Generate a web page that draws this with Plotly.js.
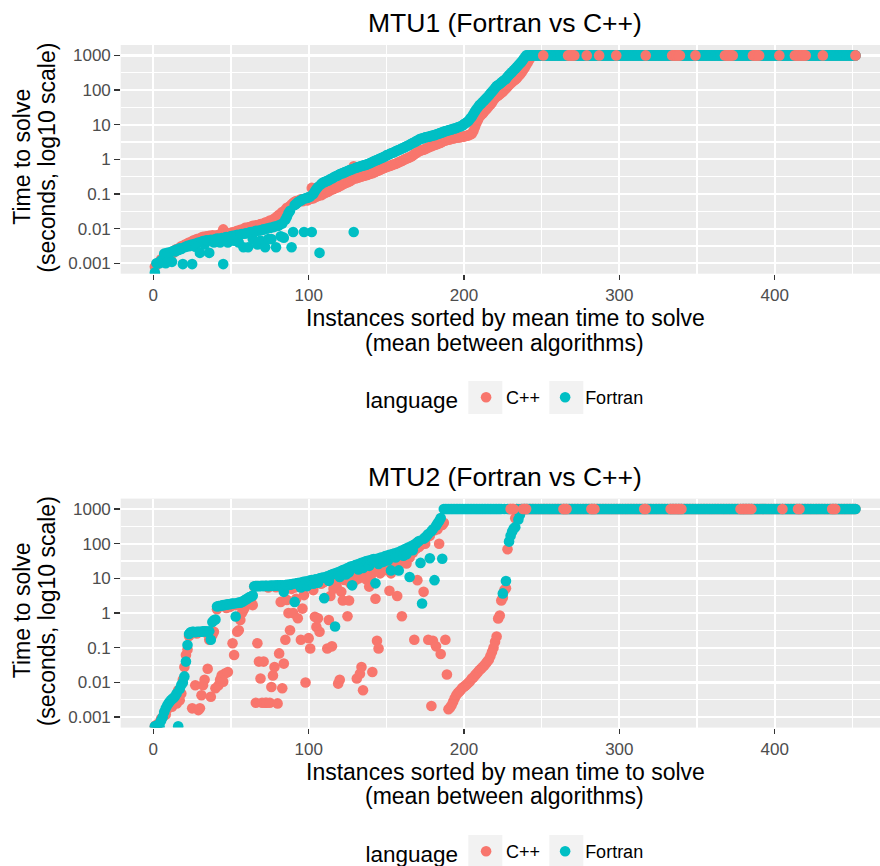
<!DOCTYPE html>
<html>
<head>
<meta charset="utf-8">
<script src="https://cdn.plot.ly/plotly-3.0.1.min.js"></script>
<style>html,body{margin:0;padding:0;background:#fff;}#chart{width:880px;height:866px;}</style>
</head>
<body>
<div id="chart"></div>
<script>
// ---------------- DATA ----------------
const nInstances = 452;
const instances = Array.from({length: nInstances}, (_, i) => i + 1); // rank positions

const yTickVals = [0.001, 0.01, 0.1, 1, 10, 100, 1000];
const yTickText = ['0.001', '0.01', '0.1', '1', '10', '100', '1000'];
const xTickVals = [0, 100, 200, 300, 400];
const xTickText = ['0', '100', '200', '300', '400'];
const languages = ['C++', 'Fortran'];
const panelTitles = ['MTU1 (Fortran vs C++)', 'MTU2 (Fortran vs C++)'];

// MTU1, C++ (seconds)
const mtu1_cpp = [
0.0008,0.0009,0.0010,0.0011,0.0013,0.0012,0.0014,0.0015,0.0017,0.0018,
0.0018,0.0021,0.0020,0.0024,0.0026,0.0025,0.0028,0.0031,0.0030,0.0034,
0.0035,0.0037,0.0040,0.0038,0.0043,0.0046,0.0044,0.0050,0.0048,0.0053,
0.0055,0.0058,0.0052,0.0060,0.0057,0.0062,0.0059,0.0064,0.0061,0.0063,
0.0060,0.0066,0.0063,0.0068,0.0095,0.0065,0.0070,0.0073,0.0069,0.0076,
0.0078,0.0074,0.0082,0.0086,0.0080,0.0092,0.0088,0.0096,0.0105,0.0099,
0.0110,0.0104,0.0115,0.0120,0.0112,0.0125,0.0118,0.0130,0.0135,0.0128,
0.0140,0.0150,0.0145,0.0160,0.0170,0.0165,0.0180,0.0195,0.0210,0.0230,
0.025,0.027,0.030,0.028,0.035,0.040,0.038,0.045,0.050,0.055,
0.060,0.063,0.058,0.066,0.070,0.062,0.068,0.072,0.065,0.070,
0.072,0.15,0.075,0.080,0.085,0.088,0.17,0.092,0.098,0.105,
0.11,0.115,0.12,0.13,0.135,0.14,0.15,0.155,0.16,0.17,
0.18,0.19,0.20,0.21,0.22,0.23,0.24,0.26,0.63,0.28,
0.29,0.30,0.31,0.32,0.33,0.34,0.35,0.36,0.38,0.39,
0.40,0.42,0.44,0.46,0.48,0.50,0.53,0.55,0.57,0.60,
0.62,0.64,0.66,0.70,0.72,0.75,0.78,0.82,0.86,0.90,
0.95,1.0,1.05,1.1,1.15,1.2,1.3,1.4,1.5,1.6,
1.7,1.8,1.85,1.9,2.0,2.1,2.2,2.3,2.4,2.5,
2.6,2.7,2.8,2.9,3.0,3.2,3.4,3.5,3.6,3.7,
3.8,3.9,4.0,4.1,4.2,4.3,4.3,4.4,4.5,4.6,
4.7,4.8,5.0,5.2,5.5,6.5,8.5,11,14,17,
19,21,24,27,30,34,38,44,52,59,
65,70,76,82,90,100,110,125,140,155,
170,185,200,220,250,280,320,370,430,520,
620,750,880,1000,
1000,1000,1000,1000,1000,1000,1000,1000,1000,1000,1000,1000,1000,1000,1000,1000,1000,1000,1000,1000,
1000,1000,1000,1000,1000,1000,1000,1000,1000,1000,1000,1000,1000,1000,1000,1000,1000,1000,1000,1000,
1000,1000,1000,1000,1000,1000,1000,1000,1000,1000,1000,1000,1000,1000,1000,1000,1000,1000,1000,1000,
1000,1000,1000,1000,1000,1000,1000,1000,1000,1000,1000,1000,1000,1000,1000,1000,1000,1000,1000,1000,
1000,1000,1000,1000,1000,1000,1000,1000,1000,1000,1000,1000,1000,1000,1000,1000,1000,1000,1000,1000,
1000,1000,1000,1000,1000,1000,1000,1000,1000,1000,1000,1000,1000,1000,1000,1000,1000,1000,1000,1000,
1000,1000,1000,1000,1000,1000,1000,1000,1000,1000,1000,1000,1000,1000,1000,1000,1000,1000,1000,1000,
1000,1000,1000,1000,1000,1000,1000,1000,1000,1000,1000,1000,1000,1000,1000,1000,1000,1000,1000,1000,
1000,1000,1000,1000,1000,1000,1000,1000,1000,1000,1000,1000,1000,1000,1000,1000,1000,1000,1000,1000,
1000,1000,1000,1000,1000,1000,1000,1000,1000,1000,1000,1000,1000,1000,1000,1000,1000,1000,1000,1000,
1000,1000,1000,1000,1000,1000,1000,1000
];

// MTU1, Fortran (seconds)
const mtu1_fortran = [
0.00054,0.0010,0.0010,0.0010,0.0012,0.0011,0.0019,0.0010,0.0020,0.0012,
0.0021,0.0011,0.0023,0.0022,0.0025,0.0024,0.0027,0.0026,0.00095,0.0029,
0.0030,0.0032,0.0031,0.0034,0.00095,0.0036,0.0030,0.0038,0.0040,0.0020,
0.0042,0.0044,0.0035,0.0046,0.0045,0.0020,0.0048,0.0047,0.0040,0.0050,
0.0052,0.0051,0.0040,0.0054,0.00095,0.0055,0.0057,0.0040,0.0058,0.0060,
0.0062,0.0045,0.0064,0.0066,0.0040,0.0068,0.0070,0.0029,0.0072,0.0074,
0.0029,0.0078,0.0080,0.0050,0.0083,0.0086,0.0035,0.0088,0.0045,0.0092,
0.0095,0.0029,0.0100,0.0050,0.0105,0.0050,0.0110,0.0115,0.0029,0.0120,
0.0125,0.0060,0.0140,0.0055,0.0180,0.0220,0.0280,0.0330,0.0029,0.0080,
0.048,0.052,0.058,0.062,0.065,0.070,0.008,0.075,0.078,0.080,
0.085,0.008,0.10,0.12,0.14,0.16,0.002,0.19,0.21,0.22,
0.23,0.24,0.25,0.27,0.28,0.30,0.32,0.33,0.35,0.37,
0.39,0.40,0.42,0.44,0.46,0.48,0.50,0.52,0.008,0.56,
0.58,0.60,0.62,0.64,0.66,0.68,0.70,0.73,0.76,0.80,
0.84,0.88,0.92,0.96,1.0,1.05,1.1,1.15,1.2,1.3,
1.35,1.4,1.5,1.55,1.6,1.7,1.8,1.85,1.95,2.05,
2.15,2.25,2.4,2.5,2.65,2.8,2.95,3.1,3.3,3.5,
3.7,3.9,4.0,4.1,4.3,4.4,4.5,4.6,4.8,4.9,
5.0,5.2,5.4,5.6,5.8,6.0,6.3,6.5,6.7,6.9,
7.1,7.3,7.6,7.8,8.0,8.4,8.7,9.0,9.5,10.5,
11,12,13,15,17,20,24,28,32,37,
40,45,50,56,62,70,80,90,100,115,
130,140,150,165,180,195,210,240,270,300,
330,370,410,460,520,580,650,750,870,1000,
1000,1000,1000,1000,1000,1000,1000,1000,1000,1000,1000,1000,1000,1000,1000,1000,1000,1000,1000,1000,
1000,1000,1000,1000,1000,1000,1000,1000,1000,1000,1000,1000,1000,1000,1000,1000,1000,1000,1000,1000,
1000,1000,1000,1000,1000,1000,1000,1000,1000,1000,1000,1000,1000,1000,1000,1000,1000,1000,1000,1000,
1000,1000,1000,1000,1000,1000,1000,1000,1000,1000,1000,1000,1000,1000,1000,1000,1000,1000,1000,1000,
1000,1000,1000,1000,1000,1000,1000,1000,1000,1000,1000,1000,1000,1000,1000,1000,1000,1000,1000,1000,
1000,1000,1000,1000,1000,1000,1000,1000,1000,1000,1000,1000,1000,1000,1000,1000,1000,1000,1000,1000,
1000,1000,1000,1000,1000,1000,1000,1000,1000,1000,1000,1000,1000,1000,1000,1000,1000,1000,1000,1000,
1000,1000,1000,1000,1000,1000,1000,1000,1000,1000,1000,1000,1000,1000,1000,1000,1000,1000,1000,1000,
1000,1000,1000,1000,1000,1000,1000,1000,1000,1000,1000,1000,1000,1000,1000,1000,1000,1000,1000,1000,
1000,1000,1000,1000,1000,1000,1000,1000,1000,1000,1000,1000,1000,1000,1000,1000,1000,1000,1000,1000,
1000,1000,1000,1000,1000,1000,1000,1000,1000,1000,1000,1000
];

// MTU2, C++ (seconds)
const mtu2_cpp = [
0.00055,0.0006,0.0006,0.0007,0.0009,0.0010,0.0012,0.0012,0.0017,0.0020,
0.0022,0.0020,0.0028,0.0032,0.0025,0.0060,0.0031,0.0048,0.012,0.028,
0.062,0.09,0.22,0.26,0.0018,0.27,0.0083,0.26,0.0016,0.0018,
0.0043,0.0083,0.012,0.27,0.025,0.17,0.0039,0.23,0.29,0.0068,
1.3,0.0083,0.012,0.016,0.0105,0.018,1.4,0.020,1.5,1.6,
0.135,0.062,1.7,0.29,0.32,0.63,1.0,1.2,1.5,2.0,
2.2,2.4,2.6,1.7,5.8,0.0026,0.135,0.040,0.013,0.0026,
0.040,0.0026,0.0026,5.5,0.0026,0.0074,0.016,0.028,5.6,0.0025,
0.069,2.1,0.0068,0.035,0.17,2.4,1.0,0.32,5.0,1.0,
5.5,2.6,0.71,6.0,0.17,1.35,3.3,0.010,6.2,0.19,
0.095,6.5,4.6,0.78,0.40,0.71,0.29,7.0,7.5,8.0,
8.5,0.095,0.63,3.1,0.11,5.0,7.5,6.0,0.0093,0.012,
4.1,2.3,9.0,12,0.81,2.3,7.0,11,13,8.9,
0.013,10,0.018,0.028,0.0060,16,9.5,18,5.8,12,
0.020,20,2.6,0.16,0.095,14,24,17,27,20,
30,4.4,14,22,33,25,3.1,38,30,0.81,
45,35,27,50,40,60,55,0.17,70,8.9,
80,90,100,4.1,100,150,0.17,170,0.0021,0.16,
245,0.11,260,100,0.066,346,400,0.17,0.017,0.0017,
0.0019,0.0022,0.0028,0.0035,0.0043,0.0050,0.0055,0.0062,0.0070,0.0076,
0.0082,0.0090,0.010,0.011,0.013,0.014,0.016,0.018,0.020,0.023,
0.025,0.028,0.031,0.035,0.040,0.046,0.058,0.076,0.10,0.15,
0.21,0.70,0.85,2.3,2.8,4.6,5.2,69,1000,1000,
1000,1000,540,1000,1000,1000,1000,1000,1000,1000,
1000,1000,1000,1000,1000,1000,1000,1000,1000,1000,1000,1000,1000,1000,1000,1000,1000,1000,1000,1000,
1000,1000,1000,1000,1000,1000,1000,1000,1000,1000,1000,1000,1000,1000,1000,1000,1000,1000,1000,1000,
1000,1000,1000,1000,1000,1000,1000,1000,1000,1000,1000,1000,1000,1000,1000,1000,1000,1000,1000,1000,
1000,1000,1000,1000,1000,1000,1000,1000,1000,1000,1000,1000,1000,1000,1000,1000,1000,1000,1000,1000,
1000,1000,1000,1000,1000,1000,1000,1000,1000,1000,1000,1000,1000,1000,1000,1000,1000,1000,1000,1000,
1000,1000,1000,1000,1000,1000,1000,1000,1000,1000,1000,1000,1000,1000,1000,1000,1000,1000,1000,1000,
1000,1000,1000,1000,1000,1000,1000,1000,1000,1000,1000,1000,1000,1000,1000,1000,1000,1000,1000,1000,
1000,1000,1000,1000,1000,1000,1000,1000,1000,1000,1000,1000,1000,1000,1000,1000,1000,1000,1000,1000,
1000,1000,1000,1000,1000,1000,1000,1000,1000,1000,1000,1000,1000,1000,1000,1000,1000,1000,1000,1000,
1000,1000,1000,1000,1000,1000,1000,1000,1000,1000,1000,1000,1000,1000,1000,1000,1000,1000,1000,1000,
1000,1000,1000,1000,1000,1000,1000,1000,1000,1000,1000,1000
];

// MTU2, Fortran (seconds)
const mtu2_fortran = [
0.00055,0.00055,0.0006,0.00055,0.0008,0.0010,0.0014,0.0018,0.0022,0.0026,
0.0030,0.0033,0.0036,0.0040,0.0048,0.00055,0.0065,0.0085,0.010,0.015,
0.040,0.12,0.25,0.28,0.29,0.29,0.28,0.29,0.29,0.29,
0.29,0.30,0.30,0.30,0.29,0.30,0.17,0.55,0.62,0.65,
1.55,1.6,1.6,1.65,1.7,1.7,1.75,1.8,1.8,1.85,
1.9,1.9,0.8,1.95,2.0,2.0,2.1,2.2,2.4,2.5,
2.7,2.9,3.0,3.2,5.9,6.0,6.0,6.0,6.0,6.1,
6.0,6.1,6.1,6.0,6.1,6.2,6.1,6.2,6.2,6.3,
6.2,6.3,6.3,4.1,6.4,6.5,6.5,6.6,6.8,7.0,
2.1,7.2,7.3,7.5,5.5,7.8,8.0,8.1,6.0,8.5,
8.7,8.9,7.0,9.3,9.5,7.5,10,10.3,10.5,2.7,
11,11.5,8.5,12.5,13,13.5,0.41,14.5,15,11,
16.5,17,18,13,20,15,22,6.3,23,24,
25,18,27,28,20,30,31,32,23,34,
35,36,7.2,37,26,39,40,30,43,45,
33,48,17,50,52,40,56,17,60,63,
45,70,50,78,11,85,65,95,100,110,
120,28,1.9,140,150,170,190,38,230,260,
8.9,330,390,450,550,37,1000,1000,1000,1000,
1000,1000,1000,1000,1000,1000,1000,1000,1000,1000,1000,1000,1000,1000,1000,1000,1000,1000,1000,1000,
1000,1000,1000,1000,1000,1000,1000,1000,1000,1000,1000,1000,1000,1000,
3.7,
1000,8.4,1000,115,170,225,275,300,1000,500,680,
1000,1000,1000,1000,1000,1000,1000,1000,1000,1000,1000,1000,1000,1000,1000,1000,1000,1000,1000,1000,
1000,1000,1000,1000,1000,1000,1000,1000,1000,1000,1000,1000,1000,1000,1000,1000,1000,1000,1000,1000,
1000,1000,1000,1000,1000,1000,1000,1000,1000,1000,1000,1000,1000,1000,1000,1000,1000,1000,1000,1000,
1000,1000,1000,1000,1000,1000,1000,1000,1000,1000,1000,1000,1000,1000,1000,1000,1000,1000,1000,1000,
1000,1000,1000,1000,1000,1000,1000,1000,1000,1000,1000,1000,1000,1000,1000,1000,1000,1000,1000,1000,
1000,1000,1000,1000,1000,1000,1000,1000,1000,1000,1000,1000,1000,1000,1000,1000,1000,1000,1000,1000,
1000,1000,1000,1000,1000,1000,1000,1000,1000,1000,1000,1000,1000,1000,1000,1000,1000,1000,1000,1000,
1000,1000,1000,1000,1000,1000,1000,1000,1000,1000,1000,1000,1000,1000,1000,1000,1000,1000,1000,1000,
1000,1000,1000,1000,1000,1000,1000,1000,1000,1000,1000,1000,1000,1000,1000,1000,1000,1000,1000,1000,
1000,1000,1000,1000,1000,1000,1000,1000,1000,1000,1000,1000,1000,1000,1000,1000,1000,1000,1000,1000,
1000,1000,1000,1000,1000,1000,1000,1000,1000,1000,1000,1000,1000,1000,1000,1000
];

// instances (ranks) where the C++ point is drawn above the Fortran point
const mtu1_cppOnTop = [251,267,268,269,270,271,279,287,298,317,334,335,336,337,338,339,349,
  368,369,370,371,372,373,386,387,388,389,390,403,413,414,415,416,417,418,419,420,431,452];
const mtu2_cppOnTop = [230,231,232,238,239,240,264,265,266,282,283,284,316,317,
  333,334,335,336,337,338,339,340,378,379,380,381,382,383,384,385,405,415,416,437,438,439];

// ---------------- STYLE ----------------
const colCpp = '#F8766D', colFor = '#00BFC4';
const FONT = 'Liberation Sans, Arial, Helvetica, sans-serif';
const W = 880, H = 866;
const px = v => v / W, py = v => 1 - v / H;
const msize = 10.6;

function pts(xs, ys, name, color, xa, ya, leg, show) {
  return {type: 'scatter', mode: 'markers', x: xs, y: ys, name: name,
    xaxis: xa, yaxis: ya, legend: leg, showlegend: show,
    marker: {color: color, size: msize, line: {width: 0}}, hoverinfo: 'skip', cliponaxis: true};
}
const pick = (arr, idx) => idx.map(i => arr[i - 1]);

const traces = [
  pts(instances, mtu1_cpp, languages[0], colCpp, 'x', 'y', 'legend', true),
  pts(instances, mtu1_fortran, languages[1], colFor, 'x', 'y', 'legend', true),
  pts(mtu1_cppOnTop, pick(mtu1_cpp, mtu1_cppOnTop), languages[0], colCpp, 'x', 'y', 'legend', false),
  pts(instances, mtu2_cpp, languages[0], colCpp, 'x2', 'y2', 'legend2', true),
  pts(instances, mtu2_fortran, languages[1], colFor, 'x2', 'y2', 'legend2', true),
  pts(mtu2_cppOnTop, pick(mtu2_cpp, mtu2_cppOnTop), languages[0], colCpp, 'x2', 'y2', 'legend2', false)
];

const xMinor = [50, 150, 250, 350, 450];
const yMinor = [0.0031623, 0.031623, 0.31623, 3.1623, 31.623, 316.23];

function xAxis(anchor) {
  return {anchor: anchor, domain: [px(120.7), 1], range: [-21.0, 467.8],
    tickvals: xTickVals, ticktext: xTickText, ticks: 'outside', ticklen: 5.5, tickwidth: 1.4,
    tickcolor: '#333333', tickfont: {family: FONT, size: 17, color: '#4D4D4D'},
    showgrid: true, gridcolor: '#FFFFFF', gridwidth: 2.2, zeroline: false, showline: false,
    minor: {tickvals: xMinor, showgrid: true, gridcolor: '#FFFFFF', gridwidth: 1.1, ticks: ''}};
}
function yAxis(anchor, top, bottom) {
  return {anchor: anchor, type: 'log', domain: [py(bottom), py(top)], range: [-3.3, 3.3],
    tickvals: yTickVals, ticktext: yTickText, ticks: 'outside', ticklen: 5.5, tickwidth: 1.4,
    tickcolor: '#333333', tickfont: {family: FONT, size: 17, color: '#4D4D4D'},
    showgrid: true, gridcolor: '#FFFFFF', gridwidth: 2.2, zeroline: false, showline: false,
    minor: {tickvals: yMinor, showgrid: true, gridcolor: '#FFFFFF', gridwidth: 1.1, ticks: ''}};
}

const P1 = {top: 45, bottom: 273.7}, P2 = {top: 498.6, bottom: 727.6};
const dy = P2.top - P1.top;

function ann(text, x, y, size, angle) {
  return {text: text, xref: 'paper', yref: 'paper', x: px(x), y: py(y), xanchor: 'center', yanchor: 'middle',
    showarrow: false, textangle: angle || 0, font: {family: FONT, size: size, color: '#000000'}};
}
const annotations = [];
[0, 1].forEach(k => {
  const o = k * dy;
  annotations.push(ann(panelTitles[k], 505, 23.5 + o, 26.5));
  annotations.push(ann('Instances sorted by mean time to solve', 506, 318 + o, 23));
  annotations.push(ann('(mean between algorithms)', 504, 342.5 + o, 23));
  annotations.push(ann('Time to solve', 21.7, 157 + o, 23, -90));
  annotations.push(ann('(seconds, log10 scale)', 46.7, 158 + o, 23, -90));
});

const shapes = [];
[0, 1].forEach(k => {
  const o = k * 454;
  [[468.3, 502.3], [549.3, 583.3]].forEach(b => shapes.push({type: 'rect', xref: 'paper', yref: 'paper',
    x0: px(b[0]), x1: px(b[1]), y0: py(414 + o), y1: py(381 + o), fillcolor: '#F2F2F2', line: {width: 0}, layer: 'below'}));
});

function legendCfg(yc) {
  return {orientation: 'h', x: px(506), xanchor: 'center', y: py(yc), yanchor: 'middle',
    title: {text: 'language', side: 'left', font: {family: FONT, size: 22.5, color: '#000000'}},
    font: {family: FONT, size: 18, color: '#000000'}, bgcolor: 'rgba(0,0,0,0)', borderwidth: 0,
    itemwidth: 30, itemclick: false, itemdoubleclick: false, traceorder: 'normal'};
}

const layout = {
  width: W, height: H, margin: {l: 0, r: 0, t: 0, b: 0, autoexpand: false},
  paper_bgcolor: '#FFFFFF', plot_bgcolor: '#EBEBEB',
  font: {family: FONT},
  xaxis: xAxis('y'), yaxis: yAxis('x', P1.top, P1.bottom),
  xaxis2: xAxis('y2'), yaxis2: yAxis('x2', P2.top, P2.bottom),
  legend: legendCfg(399), legend2: legendCfg(853),
  annotations: annotations, shapes: shapes, hovermode: false
};

Plotly.newPlot('chart', traces, layout, {displayModeBar: false, staticPlot: true});
</script>
</body>
</html>
